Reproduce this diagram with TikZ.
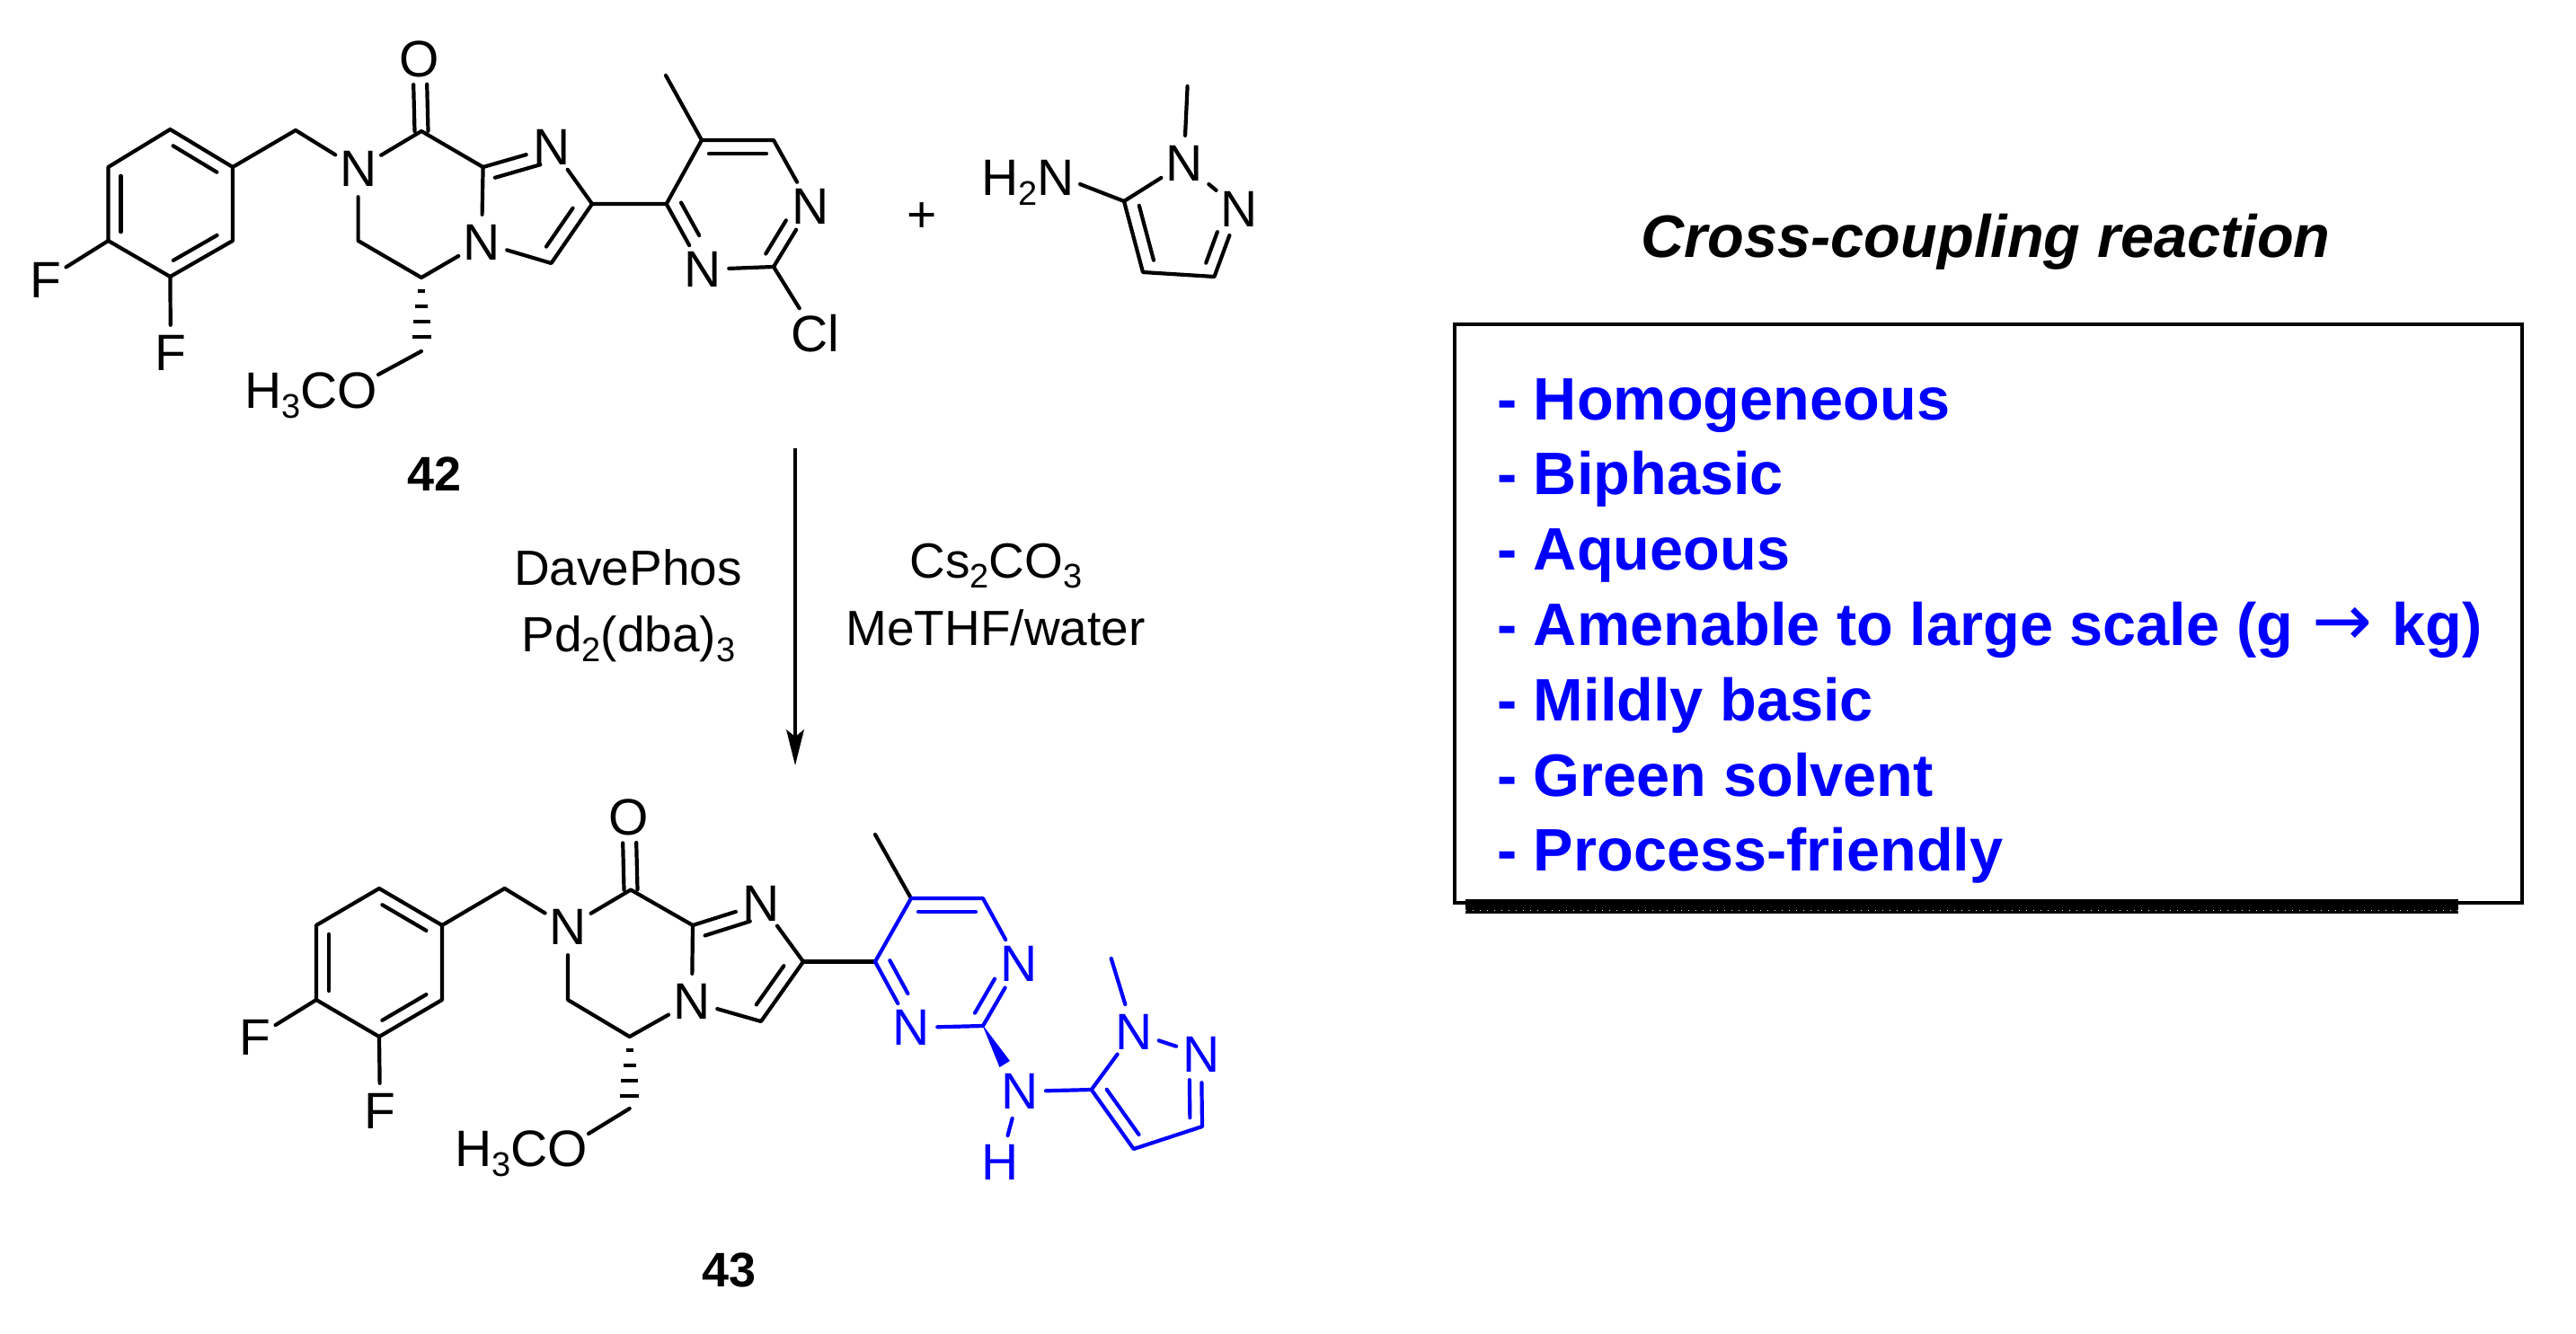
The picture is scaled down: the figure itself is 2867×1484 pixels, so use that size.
\documentclass[tikz,border=0pt]{standalone}
\usepackage{fontspec}
\setmainfont{Liberation Sans}
\newfontfamily\arrowfont{DejaVu Sans}
\usetikzlibrary{calc,shapes.geometric}
\newcommand\lowidx[1]{\raisebox{-11pt}{\fontsize{38}{38}\selectfont #1}}
\newcommand\inbond[6][bond]{\draw[#1] ($(#2)!#4!(#3)!#6pt!90:(#3)$) -- ($(#2)!#5!(#3)!#6pt!90:(#3)$);}
\newcommand\hashbond[2]{%
  \foreach \dy/\hw in {15/4,32/7,49/9.5,66/10.5}{\fill[#1] ($(#2)+(-\hw,\dy-2)$) rectangle ($(#2)+(\hw,\dy+2)$);}}
\tikzset{
  bond/.style={draw=black,line width=4.2pt,line cap=round,line join=round},
  bbond/.style={bond,draw=blue},
  atom/.style={ellipse,inner sep=0pt,minimum width=50pt,minimum height=62pt,font=\fontsize{57}{57}\selectfont},
  batom/.style={atom,text=blue},
  txt/.style={inner sep=0pt,anchor=base,font=\fontsize{55}{55}\selectfont},
  cmpd/.style={inner sep=0pt,anchor=base,font=\fontsize{54}{54}\selectfont\bfseries},
  listitem/.style={inner sep=0pt,anchor=base west,text=blue,font=\fontsize{66.7}{70}\selectfont\bfseries}
}
\begin{document}
\begin{tikzpicture}[x=1pt,y=-1pt]
\useasboundingbox (0,0) rectangle (2867,1484);
% ---------- compound 42 ----------
\coordinate (at) at (189.4,144); \coordinate (aur) at (259,186); \coordinate (alr) at (259,268);
\coordinate (ab) at (189.4,308); \coordinate (all) at (120.5,268); \coordinate (aul) at (120.5,186);
\coordinate (ach) at (329,145); \coordinate (aco) at (469,146); \coordinate (ac8) at (537.6,186);
\coordinate (ac2) at (659,227); \coordinate (ac3) at (613.5,293); \coordinate (ac5) at (469,309);
\coordinate (ac6) at (398.6,268); \coordinate (ase) at (469,391); \coordinate (aob) at (421,417);
\coordinate (ame) at (741,84); \coordinate (ap4) at (741.7,227); \coordinate (ap5) at (781,156);
\coordinate (ap6) at (861,156); \coordinate (ap2) at (861,297);
\node[atom] (an) at (398.6,188) {N};
\node[atom] (ao) at (467,66) {O};
\node[atom] (an3) at (614,164) {N};
\node[atom] (an4) at (536,270) {N};
\node[atom] (an1p) at (902,229.5) {N};
\node[atom] (an3p) at (782,300) {N};
\node[atom] (acl) at (907,371) {Cl};
\node[atom] (af1) at (51,311.5) {F};
\node[atom] (af2) at (190,393) {F};
\node[inner sep=0pt,anchor=base east,font=\fontsize{57}{57}\selectfont] (aome) at (420,454) {H\lowidx{3}CO};
\draw[bond] (at)--(aur)--(alr)--(ab)--(all)--(aul)--(at);
\inbond{at}{aur}{.15}{.85}{-14}
\inbond{alr}{ab}{.15}{.85}{-14}
\inbond{all}{aul}{.12}{.88}{-14}
\draw[bond] (aur)--(ach)--(an)--(aco)--(ac8)--(an4)--(ac5)--(ac6)--(an);
\inbond{aco}{ao}{0}{.65}{7.5}
\inbond{aco}{ao}{0}{.65}{-7.5}
\draw[bond] (ac8)--(an3)--(ac2)--(ac3)--(an4);
\inbond{ac8}{an3}{.12}{.78}{-15}
\inbond{ac2}{ac3}{.2}{.85}{-15}
\draw[bond] (ac2)--(ap4)--(ap5)--(ap6)--(an1p)--(ap2)--(an3p)--(ap4);
\draw[bond] (ap5)--(ame);
\draw[bond] (ap2)--(acl);
\inbond{ap5}{ap6}{.1}{.9}{-15}
\inbond{an1p}{ap2}{.35}{.9}{-15}
\inbond{an3p}{ap4}{.42}{.92}{-15}
\draw[bond] (all)--(af1);
\draw[bond] (ab)--(af2);
\hashbond{black}{ac5}
\draw[bond] (ase)--(aob);
\node[cmpd] (l42) at (483.6,546) {42};
\node[font=\fontsize{57}{57}\selectfont,inner sep=0pt] (plus) at (1026,242) {+};
% ---------- amine ----------
\coordinate (bc3) at (1351.5,308); \coordinate (bc4) at (1272,303); \coordinate (bc5) at (1251,224);
\coordinate (bme) at (1321.6,96); \coordinate (bnb) at (1202,205);
\node[atom] (bn1) at (1317.6,182) {N};
\node[atom] (bn2) at (1379,233) {N};
\node[inner sep=0pt,anchor=base east,font=\fontsize{57}{57}\selectfont] (bnh) at (1196,217) {H\lowidx{2}N};
\draw[bond,shorten <=6pt,shorten >=3pt] (bn1)--(bn2);
\draw[bond] (bn2)--(bc3)--(bc4)--(bc5)--(bn1);
\draw[bond] (bn1)--(bme);
\draw[bond] (bc5)--(bnb);
\inbond{bn2}{bc3}{.4}{.86}{-14}
\inbond{bc4}{bc5}{.12}{.89}{-15}
% ---------- arrow and reagents ----------
\coordinate (rs) at (885,499); \coordinate (re) at (885,820);
\coordinate (rt) at (885,852); \coordinate (rl) at (875,812); \coordinate (rr) at (895,812);
\draw[black,line width=4.4pt] (rs)--(re);
\fill[black] (rt)--(rl)--(re)--(rr)--cycle;
\node[txt] (r1) at (699,651) {DavePhos};
\node[txt] (r2) at (699.5,725) {Pd\lowidx{2}(dba)\lowidx{3}};
\node[txt] (r3) at (1108.5,643) {Cs\lowidx{2}CO\lowidx{3}};
\node[txt] (r4) at (1108,718) {MeTHF/water};
% ---------- compound 43 ----------
\coordinate (ct) at (422,989); \coordinate (cur) at (492,1030); \coordinate (clr) at (492,1113);
\coordinate (cb) at (422,1154); \coordinate (cll) at (352,1113); \coordinate (cul) at (352,1030);
\coordinate (cch) at (561.6,989); \coordinate (cco) at (702,990.5); \coordinate (cc8) at (771,1030);
\coordinate (cc2) at (894,1070.5); \coordinate (cc3) at (847,1137); \coordinate (cc5) at (700.7,1154);
\coordinate (cc6) at (632,1113); \coordinate (cse) at (700.7,1234); \coordinate (cob) at (655,1262);
\coordinate (cme) at (974,929); \coordinate (cp4) at (974,1070.5); \coordinate (cp5) at (1014,1000);
\coordinate (cp6) at (1094,1000); \coordinate (cp2) at (1094,1142);
\node[atom] (cn) at (632,1032) {N};
\node[atom] (co) at (700,910) {O};
\node[atom] (cn3) at (847,1006) {N};
\node[atom] (cn4) at (770,1115) {N};
\node[batom] (cn1p) at (1134,1073) {N};
\node[batom] (cn3p) at (1014,1144) {N};
\node[atom] (cf1) at (284,1155) {F};
\node[atom] (cf2) at (423,1237) {F};
\node[inner sep=0pt,anchor=base east,font=\fontsize{57}{57}\selectfont] (come) at (654,1298.5) {H\lowidx{3}CO};
\draw[bond] (ct)--(cur)--(clr)--(cb)--(cll)--(cul)--(ct);
\inbond{ct}{cur}{.15}{.85}{-14}
\inbond{clr}{cb}{.15}{.85}{-14}
\inbond{cll}{cul}{.12}{.88}{-14}
\draw[bond] (cur)--(cch)--(cn)--(cco)--(cc8)--(cn4)--(cc5)--(cc6)--(cn);
\inbond{cco}{co}{0}{.65}{7.5}
\inbond{cco}{co}{0}{.65}{-7.5}
\draw[bond] (cc8)--(cn3)--(cc2)--(cc3)--(cn4);
\inbond{cc8}{cn3}{.12}{.78}{-15}
\inbond{cc2}{cc3}{.2}{.85}{-15}
\draw[bond] (cc2)--(cp4);
\draw[bond] (cp5)--(cme);
\draw[bbond] (cp4)--(cp5)--(cp6)--(cn1p)--(cp2)--(cn3p)--(cp4);
\inbond[bbond]{cp5}{cp6}{.1}{.9}{-15}
\inbond[bbond]{cn1p}{cp2}{.35}{.9}{-15}
\inbond[bbond]{cn3p}{cp4}{.42}{.92}{-15}
\draw[bond] (cll)--(cf1);
\draw[bond] (cb)--(cf2);
\hashbond{black}{cc5}
\draw[bond] (cse)--(cob);
\node[cmpd] (l43) at (811.6,1432) {43};
% blue amine part of 43
\coordinate (dw1) at (1112.5,1188); \coordinate (dw2) at (1124,1181);
\coordinate (dc3) at (1338,1254); \coordinate (dc4) at (1261.7,1279); \coordinate (dc5) at (1214.7,1213);
\coordinate (dme) at (1236.7,1067); \coordinate (dmb) at (1252.3,1118);
\coordinate (dtip) at (1093,1140);
\node[batom] (dnh) at (1134.7,1215) {N};
\node[batom] (dh) at (1113.5,1294) {H};
\node[batom] (dn1) at (1261.7,1149) {N};
\node[batom] (dn2) at (1337,1174) {N};
\fill[blue] (dtip)--(dw1)--(dw2)--cycle;
\draw[bbond] (dnh)--(dh);
\draw[bbond] (dnh)--(dc5)--(dc4)--(dc3)--(dn2)--(dn1)--(dc5);
\draw[bbond] (dme)--(dmb);
\inbond[bbond]{dn2}{dc3}{.35}{.875}{-13.5}
\inbond[bbond]{dc4}{dc5}{.12}{.88}{-14}
% ---------- box ----------
\coordinate (sa) at (1631,1001); \coordinate (sb) at (2736,1017);
\fill[black] (sa) rectangle (sb);
\coordinate (d1a) at (1631,1005.2); \coordinate (d1b) at (2736,1005.2);
\coordinate (d2a) at (1631,1013.3); \coordinate (d2b) at (2736,1013.3);
\draw[white,line width=1pt,dash pattern=on 1pt off 7pt] (d1a)--(d1b);
\draw[white,line width=1pt,dash pattern=on 1pt off 7pt] (d2a)--(d2b);
\node[draw=black,line width=4.4pt,fill=none,inner sep=0pt,minimum width=1187.5pt,minimum height=644pt,anchor=north west] (box) at (1617,359) {};
\node[inner sep=0pt,anchor=base,font=\fontsize{66.7}{70}\selectfont\bfseries\itshape] (title) at (2210,286.5) {Cross-coupling reaction};
\node[listitem] (i1) at (1666,467) {- Homogeneous};
\node[listitem] (i2) at (1666,550.8) {- Biphasic};
\node[listitem] (i3) at (1666,634.6) {- Aqueous};
\node[listitem] (i4) at (1666,718.4) {- Amenable to large scale (g {\arrowfont\mdseries\upshape\fontsize{80}{80}\selectfont\kern3pt→\kern3pt} kg)};
\node[listitem] (i5) at (1666,802.2) {- Mildly basic};
\node[listitem] (i6) at (1666,886) {- Green solvent};
\node[listitem] (i7) at (1666,969.8) {- Process-friendly};
\end{tikzpicture}
\end{document}
